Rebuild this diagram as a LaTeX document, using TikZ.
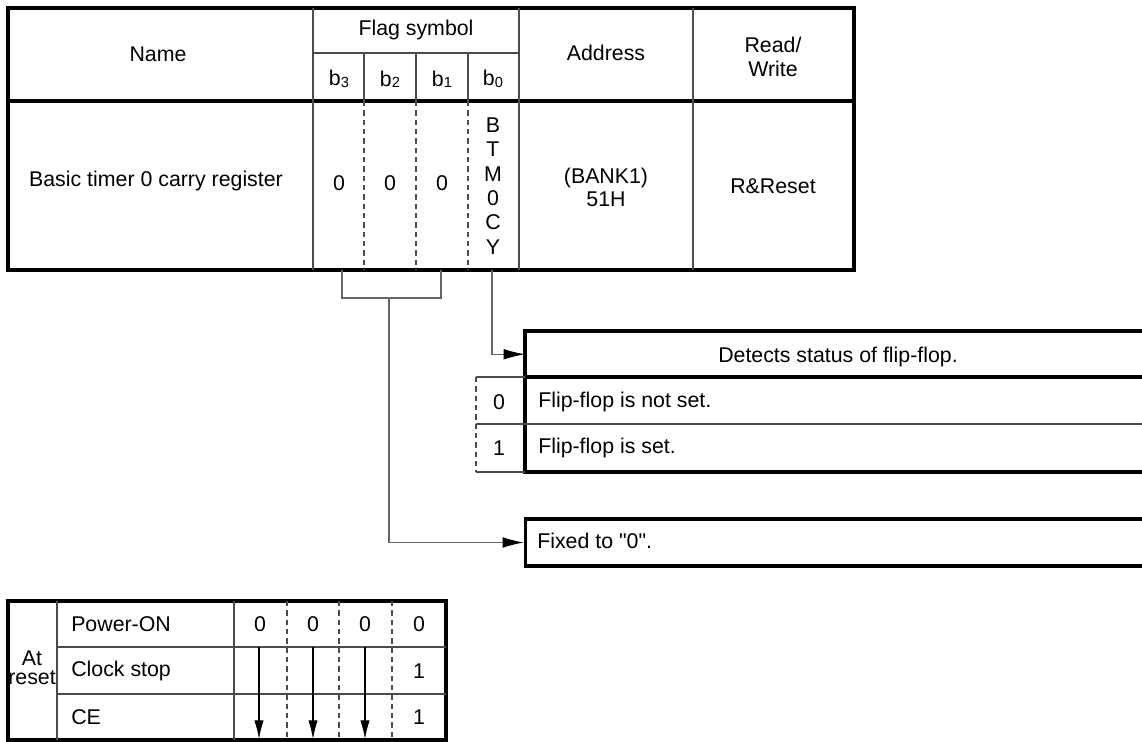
\documentclass[tikz,border=0pt]{standalone}
\usepackage{fontspec}
\setmainfont{Liberation Sans}
\newfontfamily\rawfont{Liberation Sans}[Ligatures=TeXOff]
\usetikzlibrary{arrows.meta}
\newcommand\bitsub[1]{b\raisebox{-1pt}{\fontsize{11}{11}\selectfont #1}}
\begin{document}
\begin{tikzpicture}[x=0.75pt,y=-0.75pt,
  outer/.style={line width=2.3pt,draw=black},
  inner/.style={line width=0.9pt,draw=black!70},
  dsh/.style={line width=0.9pt,draw=black!70,dash pattern=on 4pt off 3pt},
  conn/.style={line width=0.9pt,draw=black!60},
  arr/.style={-{Latex[length=16pt,width=8pt,color=black]}},
  resarr/.style={line width=0.8pt,draw=black,-{Latex[length=14pt,width=7pt]}},
  txt/.style={inner sep=0pt,font=\fontsize{16}{18}\selectfont},
  boxnode/.style={inner sep=0pt,minimum width=480pt,minimum height=#1}]
\useasboundingbox (0,0) rectangle (1142,742);

% ---------------- top register table ----------------
\draw[outer] (8,8) rectangle (854,270);
\draw[outer] (8,101) -- (854,101);
\draw[inner] (313,8) -- (313,270);
\draw[inner] (519,8) -- (519,270);
\draw[inner] (693,8) -- (693,270);
\draw[inner] (313,53) -- (519,53);
\foreach \xx in {364,416,468}{
  \draw[inner] (\xx,53) -- (\xx,101);
  \draw[dsh] (\xx,101) -- (\xx,270);
}
\node[txt] (name) at (158,54) {Name};
\node[txt] (flag) at (416,30) {Flag symbol};
\node[txt] (h3) at (339,79) {\bitsub{3}};
\node[txt] (h2) at (390,79) {\bitsub{2}};
\node[txt] (h1) at (442,79) {\bitsub{1}};
\node[txt] (h0) at (493,79) {\bitsub{0}};
\node[txt] (addr) at (606,53) {Address};
\node[txt,align=center] (rw) at (773,57) {Read/\\Write};
\node[txt] (bt) at (156,181) {Basic timer 0 carry register};
\node[txt] (c3) at (339,183) {0};
\node[txt] (c2) at (390,183) {0};
\node[txt] (c1) at (442,183) {0};
\node[txt,align=center,font=\fontsize{16}{18.2}\selectfont] (c0) at (493,186) {B\\T\\M\\0\\C\\Y};
\node[txt,align=center,font=\fontsize{16}{17.3}\selectfont] (bank) at (606,187) {(BANK1)\\51H};
\node[txt] (rr) at (773,186) {R\&Reset};

% connector anchors on the table bottom
\coordinate (tb3) at (342,270);
\coordinate (tb1) at (441,270);
\coordinate (tb0) at (492,270);
\coordinate (brmid) at (389,298);

% ---------------- flip-flop description ----------------
\node[boxnode=34.5pt,anchor=north west] (ffh) at (525,331) {};
\draw[outer] (525,331) rectangle (1170,472);
\draw[outer] (525,377) -- (1170,377);
\draw[inner] (476,424) -- (1170,424);
\draw[inner] (525,377) -- (476,377);
\draw[dsh] (476,377) -- (476,472);
\draw[inner] (476,472) -- (525,472);
\node[txt] (ffhtxt) at (838,357) {Detects status of flip-flop.};
\node[txt] (ff0) at (499,402) {0};
\node[txt,anchor=west] (ff0t) at (538,402) {Flip-flop is not set.};
\node[txt] (ff1) at (499,448) {1};
\node[txt,anchor=west] (ff1t) at (538,448) {Flip-flop is set.};

% ---------------- fixed box ----------------
\node[boxnode=35.25pt,outer,anchor=west] (fixed) at (524,542.5) {};
\node[txt,anchor=west] (fixedt) at (537,541) {\rawfont Fixed to "0".};

% ---------------- connectors ----------------
\draw[conn] (tb3) |- (brmid) -| (tb1);
\draw[conn,arr] (brmid) |- (fixed.west);
\draw[conn,arr] (tb0) |- (ffh.west);

% ---------------- reset table ----------------
\draw[outer] (8,601) rectangle (446,740);
\draw[inner] (57,601) -- (57,740);
\draw[inner] (234,601) -- (234,740);
\foreach \xx in {287,339,392}{
  \draw[dsh] (\xx,601) -- (\xx,740);
}
\draw[inner] (57,647) -- (446,647);
\draw[inner] (57,694) -- (446,694);
\node[txt,align=center,font=\fontsize{16}{14.5}\selectfont] (atr) at (32,668) {At\\reset};
\node[txt,anchor=west] (pon) at (71,624) {Power-ON};
\node[txt,anchor=west] (cst) at (71,671) {Clock stop};
\node[txt,anchor=west] (ce) at (71,717) {CE};
\node[txt] (p3) at (260,624) {0};
\node[txt] (p2) at (313,624) {0};
\node[txt] (p1) at (365,624) {0};
\node[txt] (p0) at (419,624) {0};
\node[txt] (s0) at (419,671) {1};
\node[txt] (e0) at (419,717) {1};
\coordinate (a3s) at (259,647); \coordinate (a3e) at (259,739);
\coordinate (a2s) at (313,647); \coordinate (a2e) at (313,739);
\coordinate (a1s) at (365,647); \coordinate (a1e) at (365,739);
\draw[resarr] (a3s) -- (a3e);
\draw[resarr] (a2s) -- (a2e);
\draw[resarr] (a1s) -- (a1e);
\end{tikzpicture}
\end{document}
